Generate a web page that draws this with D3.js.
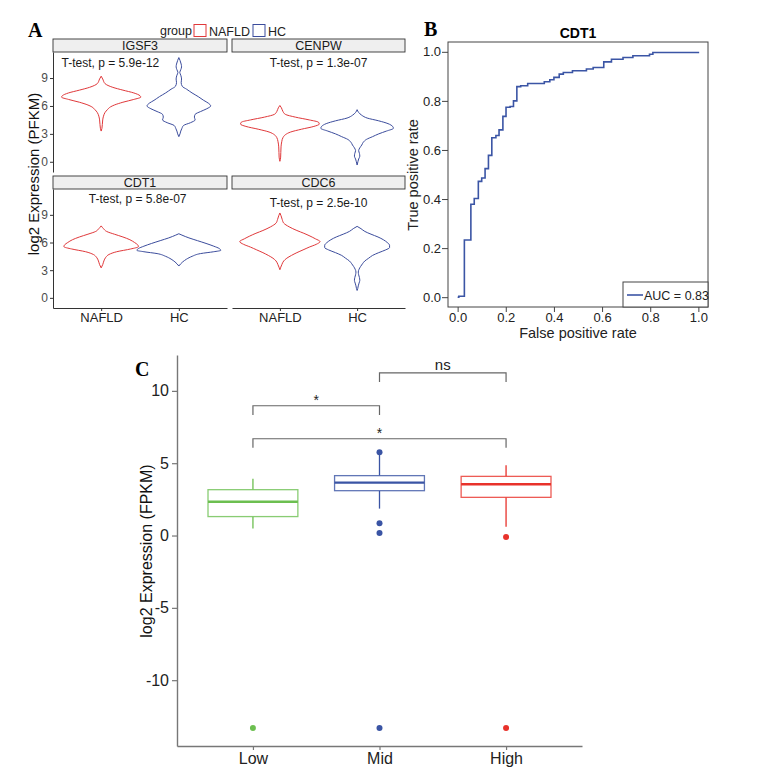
<!DOCTYPE html>
<html>
<head>
<meta charset="utf-8">
<script src="https://cdn.jsdelivr.net/npm/d3@7"></script>
<style>
  body { margin: 0; background: #fff; }
  text { font-family: "Liberation Sans", Arial, sans-serif; }
</style>
</head>
<body>
<script>
// ---- Panel A data ----
const facets = ["IGSF3", "CENPW", "CDT1", "CDC6"];
const groups = ["NAFLD", "HC"];
const pLabels = ["T-test, p = 5.9e-12", "T-test, p = 1.3e-07", "T-test, p = 5.8e-07", "T-test, p = 2.5e-10"];
const pLabelX = [0.49, 1.5, 1.47, 1.5];   // in group units (NAFLD = 1)
const pLabelY = [10.6, 10.6, 10.7, 10.3];
const pLabelAnchor = ["start", "middle", "middle", "middle"];
const aTicks = [0, 3, 6, 9];

// violin outlines: [log2 value, half width in group units]
const igsf3Nafld = [[9.2,0],[8.9,0.02],[8.4,0.05],[8.0,0.15],[7.7,0.28],[7.4,0.42],[7.1,0.5],[6.95,0.51],[6.7,0.42],[6.4,0.28],[6.1,0.17],[5.9,0.12],[5.6,0.08],[5.3,0.05],[4.9,0.03],[4.5,0.02],[4.0,0.015],[3.6,0.01],[3.3,0]];
const igsf3Hc = [[11.2,0],[10.9,0.015],[10.5,0.03],[10.2,0.035],[9.9,0.025],[9.6,0.012],[9.3,0.025],[8.9,0.035],[8.5,0.03],[8.1,0.045],[7.8,0.1],[7.4,0.17],[7.0,0.25],[6.6,0.32],[6.3,0.38],[6.0,0.41],[5.7,0.36],[5.4,0.28],[5.1,0.21],[4.8,0.2],[4.5,0.21],[4.2,0.15],[3.9,0.06],[3.6,0.04],[3.3,0.025],[3.0,0.015],[2.7,0]];
const cenpwNafld = [[6.05,0],[5.8,0.02],[5.4,0.04],[5.1,0.07],[4.8,0.2],[4.5,0.38],[4.25,0.5],[4.05,0.51],[3.8,0.44],[3.5,0.28],[3.2,0.14],[2.9,0.07],[2.6,0.04],[2.2,0.025],[1.6,0.015],[1.0,0.012],[0.5,0.01],[0.05,0]];
const cenpwHc = [[5.6,0],[5.3,0.02],[5.0,0.06],[4.7,0.13],[4.4,0.28],[4.1,0.4],[3.8,0.46],[3.6,0.47],[3.3,0.38],[3.0,0.28],[2.7,0.2],[2.4,0.12],[2.1,0.08],[1.8,0.06],[1.5,0.035],[1.2,0.02],[0.9,0.03],[0.6,0.035],[0.3,0.02],[0.0,0.01],[-0.35,0]];
const cdt1Nafld = [[7.8,0],[7.5,0.03],[7.2,0.07],[6.9,0.17],[6.6,0.28],[6.3,0.37],[6.0,0.43],[5.75,0.47],[5.55,0.48],[5.3,0.38],[5.0,0.2],[4.7,0.1],[4.4,0.06],[4.0,0.035],[3.6,0.02],[3.25,0]];
const cdt1Hc = [[6.95,0],[6.8,0.04],[6.5,0.13],[6.2,0.24],[5.9,0.35],[5.6,0.45],[5.35,0.52],[5.15,0.54],[5.0,0.45],[4.8,0.28],[4.5,0.17],[4.2,0.1],[3.9,0.05],[3.45,0]];
const cdc6Nafld = [[9.2,0],[8.9,0.015],[8.5,0.03],[8.1,0.05],[7.7,0.12],[7.3,0.22],[7.0,0.31],[6.7,0.39],[6.4,0.46],[6.1,0.52],[5.8,0.47],[5.5,0.38],[5.2,0.3],[4.9,0.22],[4.6,0.15],[4.3,0.09],[4.0,0.05],[3.6,0.025],[3.05,0]];
const cdc6Hc = [[7.75,0],[7.5,0.05],[7.2,0.1],[6.9,0.18],[6.6,0.27],[6.3,0.34],[6.0,0.39],[5.7,0.42],[5.45,0.42],[5.2,0.37],[4.9,0.28],[4.6,0.2],[4.3,0.15],[4.0,0.1],[3.7,0.07],[3.4,0.045],[3.1,0.025],[2.8,0.015],[2.5,0.02],[2.2,0.03],[1.9,0.035],[1.6,0.025],[1.3,0.015],[1.0,0.008],[0.8,0]];

// ---- Panel B data (ROC, CDT1) ----
const rocFPR = [0, 0.005, 0.028, 0.055, 0.069, 0.086, 0.10, 0.114, 0.128, 0.142, 0.159, 0.172, 0.188, 0.201, 0.218, 0.232, 0.246, 0.262, 0.291, 0.342, 0.36, 0.383, 0.40, 0.422, 0.439, 0.477, 0.535, 0.563, 0.607, 0.639, 0.687, 0.728, 0.797, 0.811, 0.99, 1.0];
const rocTPR = [0, 0.004, 0.233, 0.379, 0.402, 0.472, 0.486, 0.524, 0.578, 0.65, 0.659, 0.682, 0.737, 0.774, 0.777, 0.80, 0.858, 0.862, 0.871, 0.871, 0.878, 0.886, 0.896, 0.909, 0.916, 0.923, 0.930, 0.936, 0.959, 0.970, 0.977, 0.984, 0.99, 0.997, 0.997, 1.0];
const rocTicks = [0, 0.2, 0.4, 0.6, 0.8, 1.0];
const aucLabel = "AUC = 0.83";

// ---- Panel C data ----
const boxGroups = ["Low", "Mid", "High"];
const boxQ1 = [1.31, 3.10, 2.64];
const boxMedian = [2.34, 3.66, 3.54];
const boxQ3 = [3.17, 4.14, 4.09];
const whiskerLow = [0.48, 1.86, 0.6];
const whiskerHigh = [3.93, 5.6, 4.85];
const outliers = [[-13.3], [5.75, 0.85, 0.18, -13.3], [-0.11, -13.3]];
const cTicks = [-10, -5, 0, 5, 10];
const bracketFrom = ["Low", "Low", "Mid"];
const bracketTo = ["Mid", "High", "High"];
const bracketY = [8.97, 6.69, 11.24];
const bracketText = ["*", "*", "ns"];

const RED = "#e0383a", BLUE = "#3b4c9c";
const boxColors = ["#6cbf50", "#3a54a4", "#e8322b"];

const violins = [
  [igsf3Nafld, igsf3Hc], [cenpwNafld, cenpwHc],
  [cdt1Nafld, cdt1Hc], [cdc6Nafld, cdc6Hc]
];

const svg = d3.select("body").append("svg")
  .attr("width", 758).attr("height", 768);

// panel letters
svg.selectAll("text.letter")
  .data([["A", 28, 37], ["B", 424, 36], ["C", 135, 376]])
  .enter().append("text")
  .attr("x", d => d[1]).attr("y", d => d[2])
  .style("font-family", "'Liberation Serif', 'Times New Roman', serif")
  .style("font-weight", "bold").style("font-size", "20px")
  .text(d => d[0]);

// ================= Panel A =================
const colX = [[53, 227], [232, 405]];
const rowY = [[52, 172], [189, 308]];
const stripH = 13;

// legend
const lg = svg.append("g").attr("font-size", 12.5).attr("fill", "#222");
lg.append("text").attr("x", 160).attr("y", 35).text("group");
[[194, "NAFLD", RED], [253, "HC", BLUE]].forEach(([x, t, c]) => {
  lg.append("rect").attr("x", x).attr("y", 24.5).attr("width", 12).attr("height", 12)
    .attr("fill", "none").attr("stroke", c).attr("stroke-width", 1);
  lg.append("text").attr("x", x + 15).attr("y", 35.5).text(t);
});

facets.forEach((name, i) => {
  const col = i % 2, row = Math.floor(i / 2);
  const [x0, x1] = colX[col];
  const [yTop, yBot] = rowY[row];
  const x = d3.scalePoint().domain(groups).range([x0, x1]).padding(0.62);
  const y = d3.scaleLinear().domain([-1.1, 11.8]).range([yBot, yTop]);
  const step = x.step();
  const g = svg.append("g");

  // strip
  g.append("rect").attr("x", x0).attr("y", yTop - stripH)
    .attr("width", x1 - x0).attr("height", stripH)
    .attr("fill", "#efefef").attr("stroke", "#333").attr("stroke-width", 0.9);
  g.append("text").attr("x", (x0 + x1) / 2).attr("y", yTop - 2.5)
    .attr("text-anchor", "middle").attr("font-size", 12.5).attr("fill", "#1a1a1a")
    .text(name);

  // violins
  groups.forEach((grp, j) => {
    const cx = x(grp);
    const area = d3.area()
      .y(d => y(d[0]))
      .x0(d => cx - d[1] * step)
      .x1(d => cx + d[1] * step)
      .curve(d3.curveMonotoneY);
    g.append("path").datum(violins[i][j])
      .attr("d", area)
      .attr("fill", "none")
      .attr("stroke", j === 0 ? RED : BLUE)
      .attr("stroke-width", 1);
  });

  // p label
  const lx = x(groups[0]) + (pLabelX[i] - 1) * step;
  g.append("text").attr("x", lx).attr("y", y(pLabelY[i]) + 4)
    .attr("text-anchor", pLabelAnchor[i]).attr("font-size", 12).attr("fill", "#1a1a1a")
    .text(pLabels[i]);

  // axes (outer only)
  if (col === 0) {
    const ax = g.append("g").attr("transform", `translate(${x0},0)`)
      .call(d3.axisLeft(y).tickValues(aTicks).tickSize(3).tickPadding(2).tickSizeOuter(0));
    ax.selectAll("text").attr("font-size", 12).attr("fill", "#4d4d4d");
    ax.select(".domain").attr("stroke", "#333");
    ax.selectAll(".tick line").attr("stroke", "#333");
  }
  if (row === 1) {
    const ax = g.append("g").attr("transform", `translate(0,${yBot})`)
      .call(d3.axisBottom(x).tickSize(3).tickPadding(2).tickSizeOuter(0));
    ax.selectAll("text").attr("font-size", 13).attr("fill", "#222");
    ax.select(".domain").attr("stroke", "#333");
    ax.selectAll(".tick line").attr("stroke", "#333");
  }
});

svg.append("text")
  .attr("transform", "translate(34,174) rotate(-90)")
  .attr("dy", "0.35em").attr("text-anchor", "middle")
  .attr("font-size", 15).attr("fill", "#111")
  .text("log2 Expression (PFKM)");

// ================= Panel B =================
const bx = d3.scaleLinear().domain([-0.04, 1.04]).range([448, 708]);
const by = d3.scaleLinear().domain([-0.04, 1.04]).range([307, 42]);
const gb = svg.append("g");

gb.append("rect").attr("x", 448).attr("y", 42).attr("width", 260).attr("height", 265)
  .attr("fill", "none").attr("stroke", "#444").attr("stroke-width", 1);

const bxAxis = gb.append("g").attr("transform", "translate(0,307)")
  .call(d3.axisBottom(bx).tickValues(rocTicks).tickFormat(d3.format(".1f")).tickSize(5).tickPadding(1));
const byAxis = gb.append("g").attr("transform", "translate(448,0)")
  .call(d3.axisLeft(by).tickValues(rocTicks).tickFormat(d3.format(".1f")).tickSize(6).tickPadding(1));
[bxAxis, byAxis].forEach(a => {
  a.select(".domain").remove();
  a.selectAll(".tick line").attr("stroke", "#444");
  a.selectAll("text").attr("font-size", 13).attr("fill", "#222");
});

const rocPts = rocFPR.map((f, i) => [f, rocTPR[i]]);
gb.append("path").datum(rocPts)
  .attr("d", d3.line().x(d => bx(d[0])).y(d => by(d[1])).curve(d3.curveStepAfter))
  .attr("fill", "none").attr("stroke", "#3b55a5").attr("stroke-width", 1.6);

gb.append("text").attr("x", 578).attr("y", 38).attr("text-anchor", "middle")
  .attr("font-size", 14).attr("font-weight", "bold").text("CDT1");
gb.append("text").attr("x", 578).attr("y", 338).attr("text-anchor", "middle")
  .attr("font-size", 14.5).attr("fill", "#222").text("False positive rate");
gb.append("text").attr("transform", "translate(413,175) rotate(-90)")
  .attr("dy", "0.35em").attr("text-anchor", "middle")
  .attr("font-size", 14.5).attr("fill", "#222").text("True positive rate");

// legend box
gb.append("rect").attr("x", 623).attr("y", 282).attr("width", 85).attr("height", 25)
  .attr("fill", "#fff").attr("stroke", "#444").attr("stroke-width", 1);
gb.append("line").attr("x1", 627).attr("x2", 643).attr("y1", 295).attr("y2", 295)
  .attr("stroke", "#3b55a5").attr("stroke-width", 1.6);
gb.append("text").attr("x", 644).attr("y", 299.5).attr("font-size", 12.5).attr("fill", "#222")
  .text(aucLabel);

// ================= Panel C =================
const cx = d3.scalePoint().domain(boxGroups).range([177, 582]).padding(0.6);
const cy = d3.scaleLinear().domain([-14.55, 12.48]).range([746, 355]);
const gc = svg.append("g");
const bw = cx.step() * 0.71;

boxGroups.forEach((grp, i) => {
  const xc = cx(grp), col = boxColors[i];
  gc.append("line").attr("x1", xc).attr("x2", xc)
    .attr("y1", cy(boxQ3[i])).attr("y2", cy(whiskerHigh[i]))
    .attr("stroke", col).attr("stroke-width", 1.3);
  gc.append("line").attr("x1", xc).attr("x2", xc)
    .attr("y1", cy(boxQ1[i])).attr("y2", cy(whiskerLow[i]))
    .attr("stroke", col).attr("stroke-width", 1.3);
  gc.append("rect").attr("x", xc - bw / 2).attr("width", bw)
    .attr("y", cy(boxQ3[i])).attr("height", cy(boxQ1[i]) - cy(boxQ3[i]))
    .attr("fill", "#fff").attr("stroke", col).attr("stroke-width", 1.3).attr("stroke-opacity", 0.8);
  gc.append("line").attr("x1", xc - bw / 2).attr("x2", xc + bw / 2)
    .attr("y1", cy(boxMedian[i])).attr("y2", cy(boxMedian[i]))
    .attr("stroke", col).attr("stroke-width", 2.4);
  gc.selectAll(null).data(outliers[i]).enter().append("circle")
    .attr("cx", xc).attr("cy", d => cy(d)).attr("r", 3).attr("fill", col);
});

// significance brackets
bracketText.forEach((t, i) => {
  const xa = cx(bracketFrom[i]), xb = cx(bracketTo[i]);
  const yt = cy(bracketY[i]), ye = cy(bracketY[i] - 0.63);
  gc.append("path")
    .attr("d", `M${xa},${ye}V${yt}H${xb}V${ye}`)
    .attr("fill", "none").attr("stroke", "#666").attr("stroke-width", 1.2);
  gc.append("text").attr("x", (xa + xb) / 2).attr("y", yt - (t === "ns" ? 3 : 1))
    .attr("text-anchor", "middle").attr("font-size", t === "ns" ? 15 : 14).attr("fill", "#222")
    .text(t);
});

const cyAxis = gc.append("g").attr("transform", "translate(177,0)")
  .call(d3.axisLeft(cy).tickValues(cTicks).tickFormat(d => String(d))
    .tickSize(5).tickPadding(3).tickSizeOuter(0));
const cxAxis = gc.append("g").attr("transform", "translate(0,746)")
  .call(d3.axisBottom(cx).tickSize(4).tickPadding(3).tickSizeOuter(0));
[cyAxis, cxAxis].forEach(a => {
  a.select(".domain").attr("stroke", "#777").attr("stroke-width", 1.4);
  a.selectAll(".tick line").attr("stroke", "#777").attr("stroke-width", 1.2);
  a.selectAll("text").attr("font-size", 16).attr("fill", "#222");
});

gc.append("text").attr("transform", "translate(146,551) rotate(-90)")
  .attr("dy", "0.35em").attr("text-anchor", "middle")
  .attr("font-size", 16).attr("fill", "#111")
  .text("log2 Expression (FPKM)");
</script>
</body>
</html>
